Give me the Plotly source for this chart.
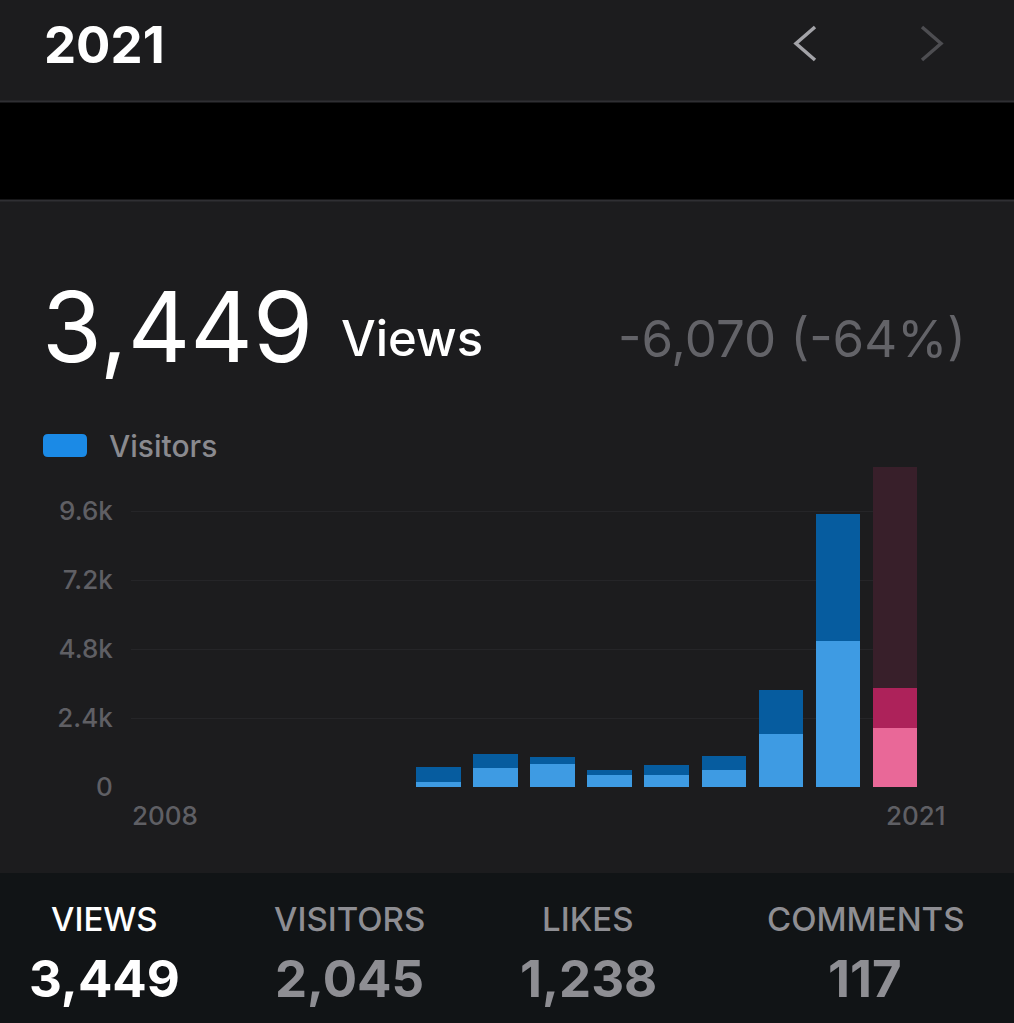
import plotly.graph_objects as go

# ---------------- data ----------------
years = [2013, 2014, 2015, 2016, 2017, 2018, 2019, 2020, 2021]
views = [680, 1155, 1060, 600, 775, 1070, 3370, 9519, 3449]
visitors = [190, 655, 785, 410, 410, 600, 1850, 5100, 2045]
selected_year = 2021
axis_first_year, axis_last_year = 2008, 2021
y_tick_vals = [0, 2400, 4800, 7200, 9600]
y_tick_text = ["0", "2.4k", "4.8k", "7.2k", "9.6k"]
Y_MAX = 11140

header_year = "2021"
total_views_text = "3,449"
change_text = "-6,070 (-64%)"
summary_labels = ["VIEWS", "VISITORS", "LIKES", "COMMENTS"]
summary_values = ["3,449", "2,045", "1,238", "117"]

# ---------------- styling ----------------
W, H = 1014, 1023
L, R, T, B = 131, 917, 467, 787          # plot area in pixels
HALF = 0.39
BAR_W = 0.776
FONT = "Inter"

BG = "#1c1c1e"
DARK_BLUE = "#065c9f"
LIGHT_BLUE = "#3e9be3"
DARK_PINK = "#ad225a"
LIGHT_PINK = "#e96898"
HIGHLIGHT = "#381f2a"


def px(x):
    return (x - L) / (R - L)


def py(y):
    return (B - y) / (B - T)


views_colors = [DARK_PINK if yr == selected_year else DARK_BLUE for yr in years]
visitor_colors = [LIGHT_PINK if yr == selected_year else LIGHT_BLUE for yr in years]

fig = go.Figure()
fig.add_trace(go.Bar(x=[selected_year], y=[Y_MAX], width=BAR_W,
                     marker=dict(color=HIGHLIGHT, line=dict(width=0)),
                     hoverinfo="skip", showlegend=False))
fig.add_trace(go.Bar(x=years, y=views, width=BAR_W, name="Views",
                     marker=dict(color=views_colors, line=dict(width=0)),
                     showlegend=False))
fig.add_trace(go.Bar(x=years, y=visitors, width=BAR_W, name="Visitors",
                     marker=dict(color=visitor_colors, line=dict(width=0)),
                     showlegend=False))

shapes = []
# black band and separators
shapes.append(dict(type="rect", xref="paper", yref="paper", layer="below",
                   x0=px(0), x1=px(W), y0=py(200), y1=py(102),
                   fillcolor="#000000", line=dict(width=0)))
for ysep in (101.5, 200.5):
    shapes.append(dict(type="line", xref="paper", yref="paper", layer="below",
                       x0=px(0), x1=px(W), y0=py(ysep), y1=py(ysep),
                       line=dict(color="#2f2f33", width=2)))
# bottom panel
shapes.append(dict(type="rect", xref="paper", yref="paper", layer="below",
                   x0=px(0), x1=px(W), y0=py(H), y1=py(873),
                   fillcolor="#111416", line=dict(width=0)))


def path(points):
    return "M " + " L ".join(f"{px(a)},{py(b)}" for a, b in points)


# chevrons
shapes.append(dict(type="path", xref="paper", yref="paper",
                   path=path([(815, 27), (796, 43.5), (815, 60)]),
                   line=dict(color="#a3a3a8", width=3.5)))
shapes.append(dict(type="path", xref="paper", yref="paper",
                   path=path([(922, 27), (941, 43.5), (922, 60)]),
                   line=dict(color="#4d4d51", width=3.5)))
# legend swatch (rounded)
x0, x1, y0, y1, r = 43, 87, 434, 457, 5
sw = (f"M {px(x0 + r)},{py(y0)} L {px(x1 - r)},{py(y0)} Q {px(x1)},{py(y0)} {px(x1)},{py(y0 + r)} "
      f"L {px(x1)},{py(y1 - r)} Q {px(x1)},{py(y1)} {px(x1 - r)},{py(y1)} "
      f"L {px(x0 + r)},{py(y1)} Q {px(x0)},{py(y1)} {px(x0)},{py(y1 - r)} "
      f"L {px(x0)},{py(y0 + r)} Q {px(x0)},{py(y0)} {px(x0 + r)},{py(y0)} Z")
shapes.append(dict(type="path", xref="paper", yref="paper", path=sw,
                   fillcolor="#1b8ae6", line=dict(width=0)))

annotations = []


def text(t, x, y, size, color, weight=400, anchor="left"):
    annotations.append(dict(text=t, xref="paper", yref="paper", x=px(x), y=py(y),
                            xanchor=anchor, yanchor="middle", showarrow=False,
                            font=dict(family=FONT, size=size, color=color, weight=weight)))


text(header_year, 42, 44, 51, "#ffffff", 700)
text(total_views_text, 40, 326, 97, "#ffffff", 400)
text("Views", 339, 338, 49, "#ffffff", 500)
text(change_text, 968, 338, 51, "#636368", 400, "right")
text("Visitors", 107, 446, 30, "#8a8a8f", 500)
text(str(axis_first_year), 130, 815, 26, "#5f5f64", 500)
text(str(axis_last_year), 916, 815, 26, "#5f5f64", 500, "center")

centers = [104, 349, 588, 865]
for i, (lab, val) in enumerate(zip(summary_labels, summary_values)):
    col = "#ffffff" if i == 0 else "#8e8e93"
    text(lab, centers[i], 919, 33, col, 500, "center")
    text(val, centers[i], 978, 51, col, 700, "center")

fig.update_layout(
    width=W, height=H,
    margin=dict(l=L, r=W - R, t=T, b=H - B, pad=0),
    paper_bgcolor=BG, plot_bgcolor=BG,
    barmode="overlay", bargap=0,
    showlegend=False, hovermode=False,
    shapes=shapes, annotations=annotations,
    xaxis=dict(range=[axis_first_year - HALF, axis_last_year + HALF],
               showgrid=False, zeroline=False, showticklabels=False,
               showline=False, ticks="", fixedrange=True),
    yaxis=dict(range=[0, Y_MAX], tickvals=y_tick_vals, ticktext=y_tick_text,
               showgrid=True, gridcolor="#252528", gridwidth=1,
               zeroline=False, showline=False,
               ticks="outside", ticklen=12, tickcolor="rgba(0,0,0,0)",
               tickfont=dict(family=FONT, size=26, color="#5f5f64", weight=500),
               fixedrange=True),
)

fig.write_html("out.html", config={"displayModeBar": False},
               post_script="document.body.style.margin='0';document.body.style.background='#1c1c1e';")
